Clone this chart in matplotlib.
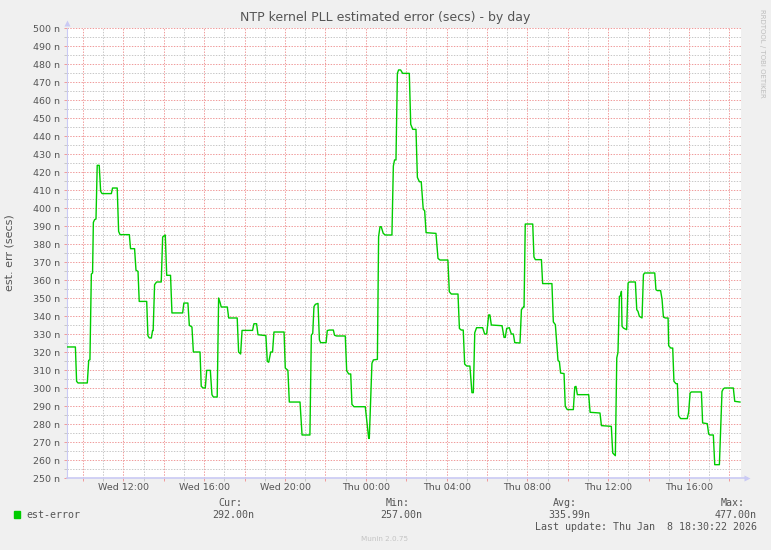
import matplotlib.pyplot as plt
from matplotlib.ticker import MultipleLocator, FuncFormatter
from matplotlib.patches import Rectangle

W, H = 771, 550

# time in hours since Wed 00:00, estimated error in ns
t_hours = [
    9.19, 9.62, 9.68, 9.75, 10.21, 10.28, 10.34, 10.41, 10.47, 10.51, 10.57, 10.64,
    10.70, 10.80, 10.87, 10.94, 11.40, 11.46, 11.69, 11.76, 11.83, 12.29, 12.35, 12.55,
    12.62, 12.72, 12.78, 13.15, 13.21, 13.28, 13.38, 13.44, 13.47, 13.54, 13.64, 13.87,
    13.94, 14.07, 14.14, 14.33, 14.40, 14.93, 14.99, 15.19, 15.26, 15.39, 15.46, 15.79,
    15.85, 15.95, 16.05, 16.12, 16.30, 16.38, 16.45, 16.64, 16.71, 16.78, 16.84, 17.14,
    17.21, 17.63, 17.70, 17.80, 17.87, 18.39, 18.46, 18.59, 18.66, 19.05, 19.12, 19.19,
    19.29, 19.38, 19.45, 19.95, 20.01, 20.14, 20.21, 20.74,
    20.84, 21.23, 21.30, 21.37, 21.43, 21.50, 21.63, 21.70, 21.76, 22.03, 22.09, 22.19,
    22.39, 22.45, 22.55, 22.98, 23.05, 23.15, 23.25, 23.31, 23.41, 23.97, 24.14, 24.17,
    24.30, 24.37, 24.57, 24.63, 24.70, 24.76, 24.86, 24.96, 25.29, 25.36, 25.42, 25.49,
    25.56, 25.62, 25.72, 25.82, 26.15, 26.22, 26.32, 26.48, 26.55, 26.65, 26.74, 26.84,
    26.91, 26.98, 27.47, 27.57, 27.67, 28.06, 28.13, 28.23, 28.56, 28.63, 28.72, 28.82,
    28.89, 28.99, 29.15, 29.25, 29.32, 29.39, 29.48, 29.78, 29.88, 29.98, 30.08, 30.14,
    30.21, 30.74, 30.84, 30.90, 30.97, 31.10, 31.20, 31.30, 31.37,
    31.63, 31.70, 31.80, 31.83, 31.89, 32.26, 32.32, 32.39, 32.69, 32.75, 33.21, 33.28,
    33.38, 33.51, 33.58, 33.64, 33.81, 33.87, 33.97, 34.27, 34.34, 34.40, 34.47, 35.03,
    35.10, 35.59, 35.66, 36.15, 36.22, 36.35, 36.42, 36.48, 36.55, 36.61, 36.65, 36.68,
    36.75, 36.91, 36.98, 37.04, 37.34, 37.41, 37.47, 37.54, 37.67, 37.74, 37.80, 38.30,
    38.36, 38.43, 38.59, 38.66, 38.73, 38.82, 38.96, 38.99, 39.09, 39.19, 39.25, 39.35,
    39.42, 39.48, 39.58, 39.91, 39.98, 40.05, 40.11, 40.61, 40.67, 40.90, 40.97, 41.04,
    41.20, 41.27, 41.50, 41.56, 41.63, 41.70, 41.76, 42.19, 42.26, 42.52,
]
err_ns = [
    322.8, 322.8, 303.7, 302.8, 302.8, 315.4, 315.7, 363.3, 363.9, 392.0, 393.5, 393.9,
    423.7, 423.7, 409.3, 408.0, 408.0, 411.1, 411.1, 387.0, 385.2, 385.2, 377.4, 377.4,
    365.4, 364.8, 348.1, 348.1, 329.1, 327.8, 327.8, 331.9, 331.9, 357.4, 358.9, 358.9,
    383.9, 385.0, 362.6, 362.6, 341.7, 341.7, 347.2, 347.2, 334.8, 333.9, 320.0, 320.0,
    300.9, 300.0, 300.0, 309.8, 309.8, 296.3, 295.0, 295.0, 350.0, 347.6, 345.0, 345.0,
    338.9, 338.9, 320.0, 318.9, 332.0, 332.0, 335.7, 335.7, 329.6, 329.1, 314.8, 314.3,
    320.0, 320.0, 331.1, 331.1, 311.1, 309.8, 292.2, 292.2,
    273.9, 273.9, 329.4, 330.4, 345.2, 346.5, 347.0, 326.7, 325.2, 325.2, 331.9, 332.2,
    332.2, 329.3, 328.9, 328.9, 309.6, 307.8, 307.8, 290.9, 289.6, 289.6, 272.0, 272.0,
    313.7, 315.6, 315.9, 384.1, 389.6, 389.6, 385.9, 385.0, 385.0, 423.3, 426.7, 426.7,
    474.8, 476.7, 476.7, 474.8, 474.8, 446.5, 443.7, 443.7, 417.0, 414.6, 414.6, 399.3,
    398.5, 386.3, 385.9, 372.0, 371.1, 371.1, 353.5, 352.2, 352.2, 333.1, 332.2, 332.2,
    313.3, 312.2, 312.2, 297.4, 297.4, 330.7, 333.5, 333.5, 330.0, 330.0, 340.6, 340.6,
    335.0, 334.6, 328.1, 328.1, 333.1, 333.5, 330.0, 330.0, 325.2,
    325.0, 343.5, 345.0, 345.0, 391.1, 391.1, 372.8, 371.3, 371.3, 358.0, 358.0, 336.7,
    335.2, 315.4, 314.6, 308.3, 308.0, 289.8, 288.0, 288.0, 300.6, 300.9, 296.3, 296.3,
    286.5, 286.1, 279.1, 278.7, 263.9, 262.4, 316.7, 319.8, 350.9, 351.3, 353.7, 334.3,
    333.3, 332.4, 358.3, 358.9, 358.9, 343.5, 342.6, 339.8, 338.9, 363.0, 363.9, 363.9,
    354.6, 354.1, 354.1, 349.4, 339.4, 338.9, 338.9, 323.5, 322.2, 322.2, 303.7, 302.4,
    302.4, 284.6, 283.0, 283.0, 286.7, 297.2, 297.8, 297.8, 280.6, 280.2, 274.4, 273.9,
    273.9, 257.4, 257.4, 275.6, 298.1, 299.6, 300.0, 300.0, 292.6, 292.2,
]

days = ['Wed', 'Thu', 'Fri']
series_name = 'est-error'
stat_names = ['Cur:', 'Min:', 'Avg:', 'Max:']
stat_values = ['292.00n', '257.00n', '335.99n', '477.00n']
last_update = 'Last update: Thu Jan  8 18:30:22 2026'

bg = '#F0F0F0'
green = '#00CC00'
red = '#F09C9C'
grey = '#C8C8C8'
axis_col = '#CACAF4'
txt = '#555555'


def px(x, y):
    return x / W, 1 - y / H


fig = plt.figure(figsize=(W / 100, H / 100), dpi=100, facecolor=bg)
ax = fig.add_axes([66.5 / W, 1 - 478 / H, (741 - 66.5) / W, 450 / H])
ax.set_facecolor('white')

ax.plot(t_hours, err_ns, color=green, lw=1.0, zorder=3)
ax.set_xlim(9.18, 42.57)
ax.set_ylim(250, 500)

ax.xaxis.set_major_locator(MultipleLocator(2))
ax.xaxis.set_minor_locator(MultipleLocator(1))
ax.yaxis.set_major_locator(MultipleLocator(10))
ax.yaxis.set_minor_locator(MultipleLocator(5))


def hour_label(h, pos):
    if round(h) % 4:
        return ''
    return '%s %02d:00' % (days[int(h // 24)], int(round(h)) % 24)


ax.xaxis.set_major_formatter(FuncFormatter(hour_label))
ax.yaxis.set_major_formatter(FuncFormatter(lambda v, p: '%d n' % v))

dots = (0, (1.4, 1.4))
ax.grid(True, which='major', color=red, lw=0.72, ls=dots)
ax.grid(True, which='minor', color=grey, lw=0.72, ls=dots)
ax.tick_params(which='major', length=2.2, width=0.72, color=red,
               labelcolor=txt, labelsize=6.8)
ax.tick_params(which='minor', length=2.2, width=0.72, color=grey)
ax.tick_params(axis='x', pad=1.5)
ax.tick_params(axis='y', pad=2.5)

for s in ['top', 'right']:
    ax.spines[s].set_visible(False)
ax.spines['left'].set_color(axis_col)
ax.spines['bottom'].set_visible(False)
ax.plot([0, 1.009], [0, 0], color=axis_col, lw=1.2, transform=ax.transAxes,
        clip_on=False, zorder=4)
ax.plot([1.009], [0], marker='>', ms=4, color=axis_col, mec='none',
        transform=ax.transAxes, clip_on=False, zorder=4)
ax.plot([0], [1.012], marker='^', ms=4, color=axis_col, mec='none',
        transform=ax.transAxes, clip_on=False, zorder=4)

fig.text(*px(385.5, 18), 'NTP kernel PLL estimated error (secs) - by day',
         ha='center', va='center', fontsize=9, color=txt)
fig.text(*px(10, 253), 'est. err (secs)', rotation=90, ha='center',
         va='center', fontsize=8, color=txt)
fig.text(*px(762, 53), 'RRDTOOL / TOBI OETIKER', rotation=-90, ha='center',
         va='center', fontsize=5, color='#BDBDBD')

mono = dict(family='DejaVu Sans Mono', fontsize=7.2, color=txt, va='center')
fig.add_artist(Rectangle(px(14, 518), 6 / W, 7 / H, color=green,
                         transform=fig.transFigure))
fig.text(*px(26, 515), series_name, **mono)
name_x = [218, 386, 553, 721]
val_x = [212, 380, 548, 715]
for nm, vl, nx, vx in zip(stat_names, stat_values, name_x, val_x):
    fig.text(*px(nx, 503), nm, **mono)
    fig.text(*px(vx, 515), vl, **mono)
fig.text(*px(535, 527), last_update, **mono)
fig.text(*px(385, 539), 'Munin 2.0.75', ha='center', va='center',
         fontsize=5.2, color='#C4C4C4')

fig.savefig('out.png', dpi=100, facecolor=bg)
